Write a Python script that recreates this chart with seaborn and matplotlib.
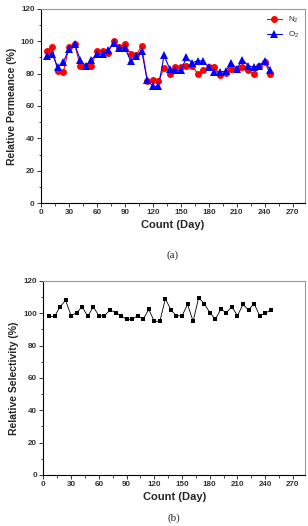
import pandas as pd
import seaborn as sns
import matplotlib.pyplot as plt
from matplotlib.ticker import MultipleLocator

# Days of measurement (same for both panels)
days = [6 * i + 6 for i in range(41)]

# (a) relative permeance, N2 and O2
n2 = [94, 96.5, 81.4, 81, 96.5, 98.5, 85, 85, 85, 94, 94, 93, 100, 96.5, 98.5,
      92.4, 91.3, 97, 75.3, 76, 75.3, 83.5, 80, 84, 84, 84.5, 85, 80, 82, 84, 84,
      79, 80.4, 83, 83, 84, 82.5, 79.6, 85, 87, 79.6]
o2 = [91, 92, 84, 87, 95.5, 98.5, 88.7, 84.5, 88.7, 92, 92, 94.4, 99, 96, 96,
      88, 90.7, 94, 75.9, 72.2, 72.2, 91.3, 83, 82, 82, 90, 86.6, 88, 87.8, 84,
      81, 81, 81.6, 86.6, 83, 88.7, 85, 84, 85, 88, 82]

# (b) relative selectivity
sel = [98, 98, 104, 108, 98.4, 100.4, 104, 98, 104, 98.4, 98.4, 102, 100.4, 98.4,
       96.3, 96.3, 98.4, 96.3, 102.4, 95, 95, 109, 102, 98.4, 98.4, 105.5, 95,
       109.6, 106, 100.4, 96.3, 102.4, 100.4, 104, 98.4, 105.5, 102, 106, 98.4,
       100, 102]

perm = pd.DataFrame({"day": days, "N2": n2, "O2": o2})
selec = pd.DataFrame({"day": days, "sel": sel})

sns.set_style("ticks")
plt.rcParams["font.family"] = ["Liberation Sans", "DejaVu Sans"]

fig = plt.figure(figsize=(3.08, 5.26), dpi=100)
ax1 = fig.add_axes([0.133, 0.614, 0.857, 0.369])
ax2 = fig.add_axes([0.141, 0.097, 0.849, 0.369])

sns.lineplot(data=perm, x="day", y="N2", ax=ax1, color="#ff0000", marker="o",
             markersize=5, markeredgewidth=0, linewidth=0.8,
             label="N$_\\mathregular{2}$")
sns.lineplot(data=perm, x="day", y="O2", ax=ax1, color="#0000ff", marker="^",
             markersize=6, markeredgewidth=0, linewidth=0.8,
             label="O$_\\mathregular{2}$")
sns.lineplot(data=selec, x="day", y="sel", ax=ax2, color="black", marker="s",
             markersize=3.4, markeredgewidth=0, linewidth=0.6)

for ax, ylab, tag, tag_y in [(ax1, "Relative Permeance (%)", "(a)", -0.268),
                             (ax2, "Relative Selectivity (%)", "(b)", -0.2)]:
    ax.set_xlim(0, 283)
    ax.set_ylim(0, 120)
    ax.set_xticks(range(0, 271, 30))
    ax.set_yticks(range(0, 121, 20))
    ax.xaxis.set_minor_locator(MultipleLocator(15))
    ax.yaxis.set_minor_locator(MultipleLocator(10))
    ax.tick_params(which="major", length=3, width=0.7, direction="out",
                   labelsize=5.8, pad=1.5, colors="#333333")
    ax.tick_params(which="minor", length=1.8, width=0.6, direction="out")
    for lab in ax.get_xticklabels() + ax.get_yticklabels():
        lab.set_fontweight("bold")
    ax.set_xlabel("Count (Day)", fontsize=8, fontweight="bold", labelpad=3)
    ax.set_ylabel(ylab, fontsize=7.5, fontweight="bold", labelpad=3)
    for side in ["left", "bottom"]:
        ax.spines[side].set_color("black")
        ax.spines[side].set_linewidth(0.8)
    for side in ["top", "right"]:
        ax.spines[side].set_visible(True)
        ax.spines[side].set_color("#999999")
        ax.spines[side].set_linewidth(0.8)
    ax.text(0.5, tag_y, tag, transform=ax.transAxes, ha="center",
            va="center" if tag == "(a)" else "top",
            fontsize=8, family="Liberation Serif")

ax1.legend(loc="upper right", frameon=False, fontsize=5.8, handlelength=1.8,
           borderaxespad=0.3, labelspacing=0.6)

fig.savefig("out.png", dpi=100)
